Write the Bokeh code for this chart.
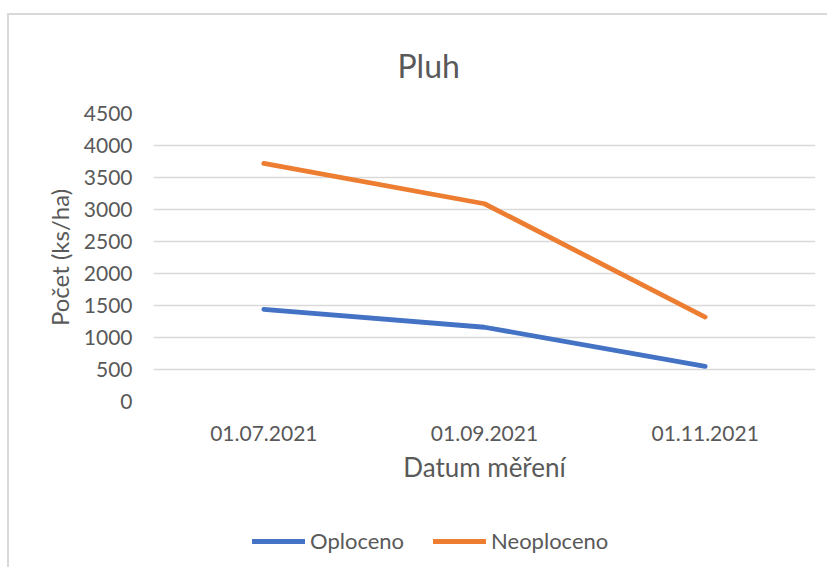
from bokeh.plotting import figure
from bokeh.models import FactorRange, Range1d, Legend, LegendItem, SingleIntervalTicker, Title
from bokeh.layouts import column
from bokeh.embed import file_html
from bokeh.resources import INLINE

dates = ["01.07.2021", "01.09.2021", "01.11.2021"]
oploceno = [1440, 1160, 550]
neoploceno = [3720, 3090, 1320]
series_names = ["Oploceno", "Neoploceno"]
series_colors = ["#4472C4", "#ED7D31"]
chart_title = "Pluh"

FONT = "Lato"
GRAY = "#595959"
LW = 4.8

p = figure(width=820, height=495, output_backend="svg", toolbar_location=None,
           x_range=FactorRange(*dates, range_padding=0), y_range=Range1d(0, 4500),
           min_border_left=144, min_border_right=14, min_border_top=98, min_border_bottom=109)
p.outline_line_color = None
p.background_fill_color = "white"
p.border_fill_color = "white"

# blank spacer title next to the frame, then the real title
p.add_layout(Title(text=" ", text_font_size="10px", standoff=15), "above")
p.add_layout(Title(text=chart_title, align="left", offset=244, standoff=2,
                   text_font=FONT, text_font_size="32px", text_font_style="normal",
                   text_color=GRAY), "above")

p.yaxis.ticker = SingleIntervalTicker(interval=500)
for ax in (p.xaxis[0], p.yaxis[0]):
    ax.axis_line_color = None
    ax.major_tick_line_color = None
    ax.minor_tick_line_color = None
    ax.major_tick_out = 0
    ax.major_tick_in = 0
    ax.major_label_text_font = FONT
    ax.major_label_text_font_size = "21px"
    ax.major_label_text_color = GRAY
    ax.axis_label_text_font = FONT
    ax.axis_label_text_font_style = "normal"
    ax.axis_label_text_color = GRAY

p.yaxis.axis_label = "Počet (ks/ha)"
p.yaxis.axis_label_text_font_size = "24px"
p.yaxis.major_label_standoff = 17
p.yaxis.axis_label_standoff = 7
p.xaxis.axis_label = "Datum měření"
p.xaxis.axis_label_text_font_size = "26px"
p.xaxis.major_label_standoff = 24
p.xaxis.axis_label_standoff = 7

p.xgrid.grid_line_color = None
p.ygrid.grid_line_color = "#d9d9d9"
p.ygrid.grid_line_width = 1.3

p.line(dates, oploceno, line_color=series_colors[0], line_width=LW, line_cap="round", line_join="round")
p.line(dates, neoploceno, line_color=series_colors[1], line_width=LW, line_cap="round", line_join="round")

# legend strip below the chart (its own y range keeps the proxy lines out of view)
p2 = figure(width=820, height=59, output_backend="svg", toolbar_location=None,
            x_range=p.x_range, y_range=Range1d(-2, -1),
            x_axis_type=None, y_axis_type=None, min_border=0)
p2.outline_line_color = None
p2.border_fill_color = "white"
p2.background_fill_color = "white"
lr1 = p2.line(dates, oploceno, line_color=series_colors[0], line_width=LW, line_cap="round")
lr2 = p2.line(dates, neoploceno, line_color=series_colors[1], line_width=LW, line_cap="round")
legend = Legend(items=[LegendItem(label=series_names[0], renderers=[lr1]),
                       LegendItem(label=series_names[1], renderers=[lr2])],
                orientation="horizontal", location=(99, 15))
legend.glyph_width = 53
legend.glyph_height = 24
legend.label_standoff = 5
legend.spacing = 29
legend.padding = 0
legend.margin = 0
legend.border_line_color = None
legend.background_fill_alpha = 0
legend.label_text_font = FONT
legend.label_text_font_size = "22px"
legend.label_text_color = GRAY
p2.add_layout(legend, "center")

layout = column(p, p2, spacing=0, margin=(15, 0, 0, 9),
                styles={"box-shadow": "-2px -2px 0 0 #d9d9d9"})
open("out.html", "w").write(file_html(layout, INLINE))
